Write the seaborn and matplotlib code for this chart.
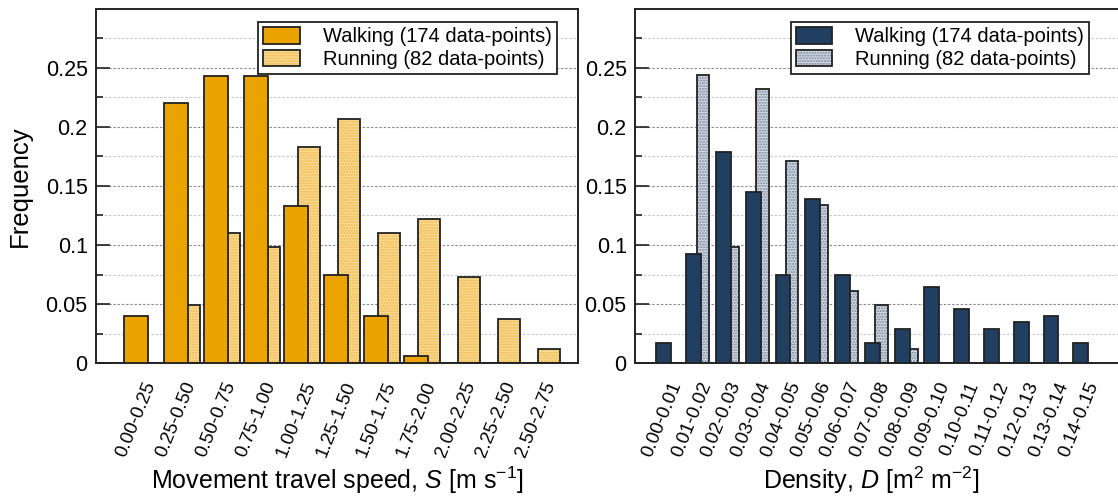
import numpy as np
import pandas as pd
import matplotlib
matplotlib.use("Agg")
import matplotlib.pyplot as plt
import matplotlib.patches as mpatches
import matplotlib.transforms as mtrans
from matplotlib.legend_handler import HandlerTuple
from matplotlib.ticker import FixedLocator
import seaborn as sns

# ---------------- data ----------------
speed_bins = ["0.00-0.25", "0.25-0.50", "0.50-0.75", "0.75-1.00", "1.00-1.25",
              "1.25-1.50", "1.50-1.75", "1.75-2.00", "2.00-2.25", "2.25-2.50",
              "2.50-2.75"]
speed_walking = [0.040, 0.220, 0.243, 0.243, 0.133, 0.075, 0.040, 0.006, 0.0, 0.0, 0.0]
speed_running = [0.0, 0.049, 0.110, 0.098, 0.183, 0.207, 0.110, 0.122, 0.073, 0.037, 0.012]

density_bins = ["0.00-0.01", "0.01-0.02", "0.02-0.03", "0.03-0.04", "0.04-0.05",
                "0.05-0.06", "0.06-0.07", "0.07-0.08", "0.08-0.09", "0.09-0.10",
                "0.10-0.11", "0.11-0.12", "0.12-0.13", "0.13-0.14", "0.14-0.15"]
density_walking = [0.017, 0.092, 0.179, 0.145, 0.075, 0.139, 0.075, 0.017, 0.029,
                   0.064, 0.046, 0.029, 0.035, 0.040, 0.017]
density_running = [0.0, 0.244, 0.098, 0.232, 0.171, 0.134, 0.061, 0.049, 0.012,
                   0.0, 0.0, 0.0, 0.0, 0.0, 0.0]

series_labels = ["Walking (174 data-points)", "Running (82 data-points)"]
ytick_values = [0, 0.05, 0.10, 0.15, 0.20, 0.25]
ytick_labels = ["0", "0.05", "0.1", "0.15", "0.2", "0.25"]

# ---------------- style ----------------
sns.set_style("ticks")
plt.rcParams["font.family"] = ["Liberation Sans", "DejaVu Sans"]
plt.rcParams["mathtext.fontset"] = "custom"
plt.rcParams["mathtext.rm"] = "Liberation Sans"
plt.rcParams["mathtext.it"] = "Liberation Sans:italic"
plt.rcParams["hatch.linewidth"] = 1.0
plt.rcParams["text.color"] = "black"
plt.rcParams["axes.labelcolor"] = "black"
plt.rcParams["xtick.color"] = "black"
plt.rcParams["ytick.color"] = "black"

W, H = 1118, 497
fig = plt.figure(figsize=(W / 100, H / 100), dpi=100)
axL = fig.add_axes([96 / W, 134 / H, 482 / W, 354 / H])
axR = fig.add_axes([635 / W, 134 / H, 486 / W, 354 / H])

HATCH = "......"


def panel(ax, bins, walk, run, wcol, rfill, rhatch, woff, wwid, roff, rwid,
          xlim, xlabel, xlabel_x, legend_x, ylabel=None):
    idx = np.arange(len(bins))
    dfr = pd.DataFrame({"x": idx + roff, "y": run})
    dfw = pd.DataFrame({"x": idx + woff, "y": walk})
    # running: hatched fill, then outline
    sns.barplot(data=dfr, x="x", y="y", native_scale=True, width=rwid,
                color=rfill, edgecolor=rhatch, hatch=HATCH, linewidth=0,
                saturation=1, errorbar=None, ax=ax, zorder=2)
    sns.barplot(data=dfr, x="x", y="y", native_scale=True, width=rwid,
                color="#222222", fill=False, linewidth=1.3,
                errorbar=None, ax=ax, zorder=2.1)
    # walking
    sns.barplot(data=dfw, x="x", y="y", native_scale=True, width=wwid,
                color=wcol, edgecolor="#222222", linewidth=1.3,
                saturation=1, errorbar=None, ax=ax, zorder=3)

    ax.set_xlim(*xlim)
    ax.set_ylim(0, 0.3)
    ax.set_yticks(ytick_values)
    ax.set_yticklabels(ytick_labels)
    ax.yaxis.set_minor_locator(FixedLocator(np.arange(0.025, 0.3, 0.05)))
    ax.grid(axis="y", which="major", color="#8c8c8c", linestyle=(0, (2.2, 1.6)),
            linewidth=0.8, zorder=0)
    ax.grid(axis="y", which="minor", color="#c8c8c8", linestyle=(0, (2.2, 1.6)),
            linewidth=0.8, zorder=0)
    ax.set_axisbelow(True)
    ax.tick_params(axis="y", which="major", direction="in", length=10, width=1.2,
                   labelsize=15.5, pad=6, colors="#222222", labelcolor="black")
    ax.tick_params(axis="y", which="minor", direction="in", length=5, width=1.2,
                   colors="#222222")
    ax.set_xticks(idx)
    ax.set_xticklabels(bins, rotation=68, ha="right", va="center",
                       rotation_mode="anchor", fontsize=13.5, color="black")
    ax.tick_params(axis="x", length=0, pad=14)
    offset = mtrans.ScaledTranslation(0.09, 0, fig.dpi_scale_trans)
    for lab in ax.get_xticklabels():
        lab.set_transform(lab.get_transform() + offset)
    for s in ax.spines.values():
        s.set_color("#222222")
        s.set_linewidth(1.4)
        s.set_visible(True)

    ax.set_xlabel(xlabel, fontsize=18, color="black")
    ax.xaxis.set_label_coords(xlabel_x, -0.286)
    if ylabel:
        ax.set_ylabel(ylabel, fontsize=18.5, color="black")
        ax.yaxis.set_label_coords(-0.133, 0.5)
    else:
        ax.set_ylabel("")

    h_walk = mpatches.Patch(facecolor=wcol, edgecolor="#222222", linewidth=1.3)
    h_run_fill = mpatches.Patch(facecolor=rfill, edgecolor=rhatch, hatch=HATCH,
                                linewidth=0)
    h_run_edge = mpatches.Patch(facecolor="none", edgecolor="#222222", linewidth=1.3)
    leg = ax.legend([h_walk, (h_run_fill, h_run_edge)], series_labels,
                    handler_map={tuple: HandlerTuple(ndivide=1, pad=0)},
                    loc="upper right", bbox_to_anchor=(legend_x, 0.962),
                    borderaxespad=0, fontsize=14.5, handlelength=1.8,
                    handleheight=0.85, handletextpad=1.15, borderpad=0.25,
                    labelspacing=0.15, fancybox=False, framealpha=1,
                    edgecolor="#222222", labelcolor="black")
    leg.get_frame().set_linewidth(1.3)
    leg.set_zorder(5)


panel(axL, speed_bins, speed_walking, speed_running,
      wcol="#EBA300", rfill="#FBDC96", rhatch="#F0B443",
      woff=-0.15, wwid=0.6, roff=0.175, rwid=0.55,
      xlim=(-1.15, 10.9),
      xlabel=r"Movement travel speed, $S$ [m s$^{-1}$]", xlabel_x=0.5,
      legend_x=0.956, ylabel="Frequency")

panel(axR, density_bins, density_walking, density_running,
      wcol="#213F61", rfill="#D3DAE3", rhatch="#72849B",
      woff=-0.13, wwid=0.5, roff=0.18, rwid=0.42,
      xlim=(-1.1, 15.22),
      xlabel=r"Density, $D$ [m$^2$ m$^{-2}$]", xlabel_x=0.487,
      legend_x=0.934)

fig.savefig("out.png", dpi=100)
